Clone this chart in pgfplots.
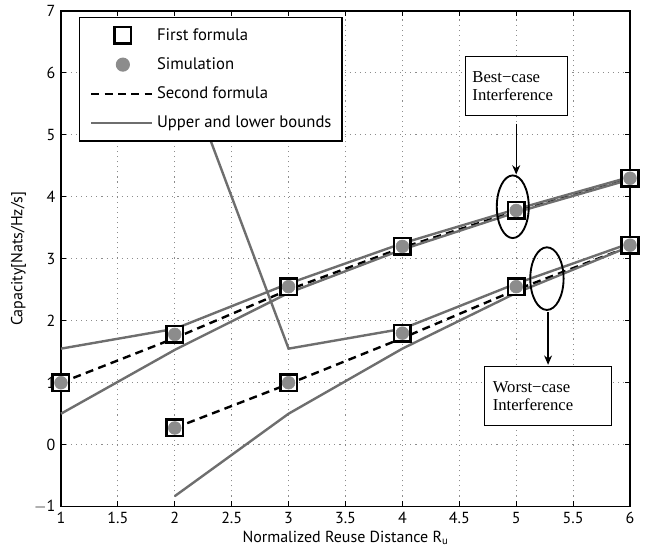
\documentclass[border=0pt]{standalone}
\usepackage{pgfplots}
\pgfplotsset{compat=1.18}
\usetikzlibrary{arrows.meta}
\usepackage{fontspec}
\setmainfont{PT Sans}
\newfontfamily\boxfont{Liberation Serif}
\definecolor{bnd}{HTML}{6E6E6E}
\definecolor{sim}{HTML}{8C8C8C}
\pgfplotsset{
  markleg/.style={legend image code/.code={\path[draw=none] (0cm,0cm) -- (1.76cm,0cm);\path[##1, draw=none] plot coordinates {(0.93cm,0cm)};}},
  lineleg/.style={legend image code/.code={\path[draw=none] (0cm,0cm) -- (1.76cm,0cm);\draw[##1] (0.1cm,0cm) -- (1.7cm,0cm);}},
}
\begin{document}
\fontsize{12}{14}\selectfont
\begin{tikzpicture}
\path (-45.75pt,-39pt) rectangle (443.5pt,378pt);
\begin{axis}[
  scale only axis, width=427pt, height=372pt,
  xmin=1, xmax=6, ymin=-1, ymax=7,
  xtick={1,1.5,...,6}, ytick={-1,0,...,7},
  xticklabels={1,1.5,2,2.5,3,3.5,4,4.5,5,5.5,6},
  yticklabels={$-$1,0,1,2,3,4,5,6,7},
  tick align=inside, tick style={black, line width=0.8pt}, major tick length=4pt,
  axis line style={line width=1pt},
  grid=major, grid style={dash pattern=on 0.8pt off 3pt, gray!90, line width=0.6pt},
  xlabel={Normalized Reuse Distance R$_{\mathrm{u}}$},
  ylabel={Capacity[Nats/Hz/s]},
  xlabel style={yshift=3pt},
  ylabel style={yshift=-2pt},
  clip=false,
  legend style={at={(rel axis cs:0,1)}, anchor=north west, xshift=13.5pt, yshift=-4.5pt,
    draw=black, line width=1pt, fill=white, font=\fontsize{12.5}{14}\selectfont,
    row sep=7.3pt, inner xsep=6pt, inner ysep=6pt},
  legend cell align=left,
]
% First formula (squares)
\addplot[only marks, mark=square*, mark size=6.2pt, mark options={draw=black, fill=white, line width=1.9pt}, markleg]
  coordinates {(1,1) (2,1.78) (3,2.55) (4,3.2) (5,3.78) (6,4.3)};
\addlegendentry{First formula}
\addplot[only marks, mark=square*, mark size=6.2pt, mark options={draw=black, fill=white, line width=1.9pt}, forget plot]
  coordinates {(2,0.27) (3,1.0) (4,1.8) (5,2.55) (6,3.22)};
% Simulation (circles)
\addplot[only marks, mark=*, mark size=4.8pt, mark options={draw=sim, fill=sim}, markleg]
  coordinates {(1,1) (2,1.78) (3,2.55) (4,3.2) (5,3.78) (6,4.3)};
\addlegendentry{Simulation}
\addplot[only marks, mark=*, mark size=4.8pt, mark options={draw=sim, fill=sim}, forget plot]
  coordinates {(2,0.27) (3,1.0) (4,1.8) (5,2.55) (6,3.22)};
% Second formula (dashed)
\addplot[black, line width=1.8pt, dash pattern=on 6pt off 4pt, no marks, lineleg]
  coordinates {(1,1.0) (2,1.72) (3,2.5) (4,3.18) (5,3.77) (6,4.3)};
\addlegendentry{Second formula}
\addplot[black, line width=1.8pt, dash pattern=on 6pt off 4pt, no marks, forget plot]
  coordinates {(2,0.27) (3,0.98) (4,1.72) (5,2.5) (6,3.2)};
% Bounds
\addplot[bnd, line width=1.8pt, no marks, lineleg]
  coordinates {(1,1.55) (2,1.87) (3,2.6) (4,3.25) (5,3.8) (6,4.32)};
\addlegendentry{Upper and lower bounds\hspace{12pt}}
\addplot[bnd, line width=1.8pt, no marks, forget plot]
  coordinates {(1,0.5) (2,1.53) (3,2.45) (4,3.15) (5,3.75) (6,4.28)};
\addplot[bnd, line width=1.8pt, no marks, forget plot]
  coordinates {(2,6.45) (3,1.55) (4,1.87) (5,2.6) (6,3.25)};
\addplot[bnd, line width=1.8pt, no marks, forget plot]
  coordinates {(2,-0.83) (3,0.5) (4,1.55) (5,2.45) (6,3.2)};
% Annotations
\draw[black, line width=1.4pt] (axis cs:4.97,3.84) ellipse [x radius=12pt, y radius=23.5pt];
\draw[black, line width=1.4pt] (axis cs:5.27,2.68) ellipse [x radius=12.5pt, y radius=23.5pt];
\draw[black, line width=0.9pt, -{Stealth[length=7pt,width=6pt]}] (axis cs:5.0,5.18) -- (axis cs:5.0,4.36);
\draw[black, line width=0.9pt, -{Stealth[length=7pt,width=6pt]}] (axis cs:5.28,2.14) -- (axis cs:5.28,1.29);
\node[draw=black, fill=white, line width=0.7pt, align=left, font=\boxfont\fontsize{12.5}{13.5}\selectfont,
  inner xsep=5pt, inner ysep=0pt, text width=66pt, minimum height=44pt, anchor=north west]
  at (axis cs:4.553,6.27) {Best−case\\Interference};
\node[draw=black, fill=white, line width=0.7pt, align=left, font=\boxfont\fontsize{12.5}{13.5}\selectfont,
  inner xsep=6pt, inner ysep=0pt, text width=83pt, minimum height=44pt, anchor=north west]
  at (axis cs:4.72,1.27) {Worst−case\\Interference};
\end{axis}
\end{tikzpicture}
\end{document}
